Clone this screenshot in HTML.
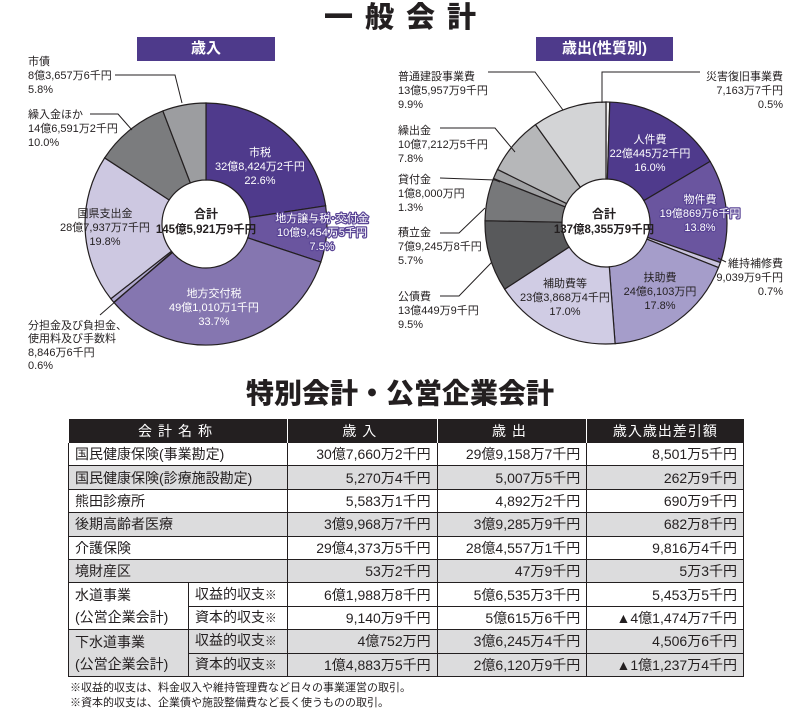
<!DOCTYPE html>
<html><head><meta charset="utf-8">
<style>
body{margin:0;background:#fff;width:800px;height:719px;overflow:hidden;font-family:"Liberation Sans","Noto Sans CJK JP",sans-serif;color:#231f20;position:relative}
.abs{position:absolute}
.title{left:0;width:800px;top:0;text-align:center;font-size:29px;font-weight:900;letter-spacing:12px;line-height:36px;padding-left:12px;box-sizing:border-box}
.box{background:#4e3a8b;color:#fff;text-align:center;font-size:15px;line-height:24px;font-weight:bold}
.t2{left:0;width:800px;top:374px;text-align:center;font-size:28px;font-weight:900;line-height:40px}
table{position:absolute;left:68px;top:419px;border-collapse:collapse;width:676px;font-size:14px}
td{border:1px solid #231f20;height:22.4px;padding:0 6px;line-height:20px;white-space:nowrap}
th{background:#231f20;color:#fff;font-weight:normal;height:21px;letter-spacing:6px;border-left:1px solid #fff;font-size:14px}
td.r{text-align:right}
tr.g td{background:#dcdcdd}
td.dt{border-bottom:1px dashed #555}
.fn{left:70px;font-size:11px;line-height:14px}
svg text{font-family:"Liberation Sans","Noto Sans CJK JP",sans-serif;font-size:11px}
.halo{stroke:#5a4596;stroke-width:2.5px;paint-order:stroke;stroke-linejoin:round}
</style></head><body>
<div class="abs title">一般会計</div>
<div class="abs box" style="left:137px;top:37px;width:138px">歳入</div>
<div class="abs box" style="left:536px;top:37px;width:137px">歳出(性質別)</div>
<svg class="abs" style="left:0;top:0" width="800" height="372" id="s">
<g id="p1"></g><g id="p2"></g>
<g fill="none" stroke="#231f20" stroke-width="1">
<polyline points="115,75 175,75 182,103"/>
<polyline points="90,114 118,114 132,130"/>
<polyline points="100,315 172,252"/>
<polyline points="488,72 535,72 563,110"/>
<polyline points="440,128 495,128 515,152"/>
<polyline points="440,178 495,180 500,182"/>
<polyline points="440,233 459,233 485,208"/>
<polyline points="440,296 459,296 492,262"/>
<polyline points="700,72 602,72 602,103"/>
<polyline points="718,258 726,262"/>
</g>
<g text-anchor="middle" fill="#fff">
<text x="260" y="156">市税</text><text x="260" y="170">32億8,424万2千円</text><text x="260" y="184">22.6%</text>
<g class="halo"><text x="322" y="222">地方譲与税･交付金</text><text x="322" y="236">10億9,454万5千円</text><text x="322" y="250">7.5%</text></g>
<text x="214" y="297">地方交付税</text><text x="214" y="311">49億1,010万1千円</text><text x="214" y="325">33.7%</text>
<text x="650" y="143">人件費</text><text x="650" y="157">22億445万2千円</text><text x="650" y="171">16.0%</text>
<g class="halo"><text x="700" y="203">物件費</text><text x="700" y="217">19億869万6千円</text><text x="700" y="231">13.8%</text></g>
</g>
<g text-anchor="middle" fill="#231f20">
<text x="105" y="217">国県支出金</text><text x="105" y="231">28億7,937万7千円</text><text x="105" y="245">19.8%</text>
<text x="660" y="281">扶助費</text><text x="660" y="295">24億6,103万円</text><text x="660" y="309">17.8%</text>
<text x="565" y="287">補助費等</text><text x="565" y="301">23億3,868万4千円</text><text x="565" y="315">17.0%</text>
<text x="206" y="218" font-weight="bold" style="font-size:12px">合計</text><text x="206" y="233" font-weight="bold" style="font-size:11.5px">145億5,921万9千円</text>
<text x="604" y="218" font-weight="bold" style="font-size:12px">合計</text><text x="604" y="233" font-weight="bold" style="font-size:11.5px">137億8,355万9千円</text>
</g>
<g fill="#231f20">
<text x="28" y="65">市債</text><text x="28" y="79">8億3,657万6千円</text><text x="28" y="93">5.8%</text>
<text x="28" y="118">繰入金ほか</text><text x="28" y="132">14億6,591万2千円</text><text x="28" y="146">10.0%</text>
<text x="28" y="329">分担金及び負担金、</text><text x="28" y="342">使用料及び手数料</text><text x="28" y="356">8,846万6千円</text><text x="28" y="369">0.6%</text>
<text x="398" y="80">普通建設事業費</text><text x="398" y="94">13億5,957万9千円</text><text x="398" y="108">9.9%</text>
<text x="398" y="134">繰出金</text><text x="398" y="148">10億7,212万5千円</text><text x="398" y="162">7.8%</text>
<text x="398" y="183">貸付金</text><text x="398" y="197">1億8,000万円</text><text x="398" y="211">1.3%</text>
<text x="398" y="236">積立金</text><text x="398" y="250">7億9,245万8千円</text><text x="398" y="264">5.7%</text>
<text x="398" y="300">公債費</text><text x="398" y="314">13億449万9千円</text><text x="398" y="328">9.5%</text>
</g>
<g fill="#231f20" text-anchor="end">
<text x="783" y="80">災害復旧事業費</text><text x="783" y="94">7,163万7千円</text><text x="783" y="108">0.5%</text>
<text x="783" y="267">維持補修費</text><text x="783" y="281">9,039万9千円</text><text x="783" y="295">0.7%</text>
</g>
</svg>
<div class="abs t2">特別会計・公営企業会計</div>
<table>
<tr><th colspan="2">会計名称</th><th>歳入</th><th>歳出</th><th style="letter-spacing:1px">歳入歳出差引額</th></tr>
<tr><td colspan="2">国民健康保険(事業勘定)</td><td class="r">30億7,660万2千円</td><td class="r">29億9,158万7千円</td><td class="r">8,501万5千円</td></tr>
<tr class="g"><td colspan="2">国民健康保険(診療施設勘定)</td><td class="r">5,270万4千円</td><td class="r">5,007万5千円</td><td class="r">262万9千円</td></tr>
<tr><td colspan="2">熊田診療所</td><td class="r">5,583万1千円</td><td class="r">4,892万2千円</td><td class="r">690万9千円</td></tr>
<tr class="g"><td colspan="2">後期高齢者医療</td><td class="r">3億9,968万7千円</td><td class="r">3億9,285万9千円</td><td class="r">682万8千円</td></tr>
<tr><td colspan="2">介護保険</td><td class="r">29億4,373万5千円</td><td class="r">28億4,557万1千円</td><td class="r">9,816万4千円</td></tr>
<tr class="g"><td colspan="2">境財産区</td><td class="r">53万2千円</td><td class="r">47万9千円</td><td class="r">5万3千円</td></tr>
<tr><td rowspan="2" style="width:107px;line-height:22px">水道事業<br>(公営企業会計)</td><td class="dt" style="width:86px">収益的収支<small>※</small></td><td class="r dt">6億1,988万8千円</td><td class="r dt">5億6,535万3千円</td><td class="r dt">5,453万5千円</td></tr>
<tr><td>資本的収支<small>※</small></td><td class="r">9,140万9千円</td><td class="r">5億615万6千円</td><td class="r">▲4億1,474万7千円</td></tr>
<tr class="g"><td rowspan="2" style="line-height:22px">下水道事業<br>(公営企業会計)</td><td class="dt">収益的収支<small>※</small></td><td class="r dt">4億752万円</td><td class="r dt">3億6,245万4千円</td><td class="r dt">4,506万6千円</td></tr>
<tr class="g"><td>資本的収支<small>※</small></td><td class="r">1億4,883万5千円</td><td class="r">2億6,120万9千円</td><td class="r">▲1億1,237万4千円</td></tr>
</table>
<div class="abs fn" style="top:681px">※収益的収支は、料金収入や維持管理費など日々の事業運営の取引。</div>
<div class="abs fn" style="top:696px">※資本的収支は、企業債や施設整備費など長く使うものの取引。</div>
<script>
function pie(id,cx,cy,R,r,data){
 var g=document.getElementById(id),a=0,h='';
 data.forEach(function(d){
  var a0=a*Math.PI*2/100,a1=(a+d[0])*Math.PI*2/100;a+=d[0];
  var p=function(rr,t){return (cx+rr*Math.sin(t)).toFixed(2)+','+(cy-rr*Math.cos(t)).toFixed(2)};
  var lg=(d[0]>50)?1:0;
  h+='<path d="M'+p(R,a0)+'A'+R+','+R+' 0 '+lg+' 1 '+p(R,a1)+'L'+p(r,a1)+'A'+r+','+r+' 0 '+lg+' 0 '+p(r,a0)+'Z" fill="'+d[1]+'" stroke="#231f20" stroke-width="1.2"/>';
 });
 g.innerHTML=h;
}
pie('p1',206,224,121,44,[[22.6,'#4f3a8c'],[7.5,'#6a559f'],[33.7,'#8576b0'],[0.6,'#b0a8cf'],[19.8,'#cdc8e1'],[10.0,'#7b7c7e'],[5.8,'#9c9da0']]);
pie('p2',606,223,121,44,[[0.5,'#f2f2f2'],[16.0,'#4f3a8c'],[13.8,'#6a559f'],[0.7,'#c9c3de'],[17.8,'#a59dca'],[17.0,'#d0cce4'],[9.5,'#58595b'],[5.7,'#77787a'],[1.3,'#a0a1a3'],[7.8,'#b6b7b9'],[9.9,'#d3d4d6']]);
</script>
</body></html>
